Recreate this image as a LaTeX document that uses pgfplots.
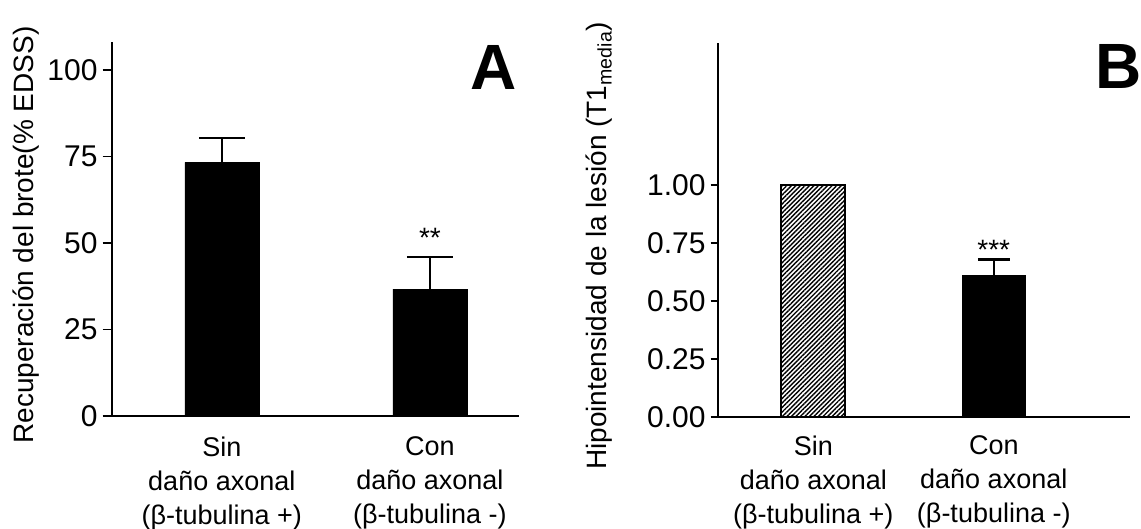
\documentclass[border=0pt]{standalone}
\usepackage{fontspec}
\setmainfont{Liberation Sans}
\usepackage{pgfplots}
\pgfplotsset{compat=1.18}
\usetikzlibrary{patterns.meta}

\begin{document}
\begin{tikzpicture}[x=1pt,y=1pt]
\pgfplotsset{
  myax/.style={
    scale only axis, clip=false,
    axis x line=bottom, axis y line=left,
    axis line style={-, line width=1.8pt, black},
    tick align=outside, ymin=0,
    xtick={0,1},
    xtick style={draw=none},
    ytick style={line width=1.8pt, black},
    major tick length=9pt,
    tick label style={font=\fontsize{30}{36}\selectfont},
    yticklabel style={inner sep=2pt, xshift=-3pt},
    xticklabel style={font=\fontsize{27}{34}\selectfont, align=center, yshift=-8pt},
    /pgf/number format/assume math mode=true,
  },
}

% ---------- Panel A ----------
\begin{axis}[myax,
  at={(111.7pt,113pt)}, anchor=south west,
  width=407.3pt, height=374.3pt,
  xmin=-0.529, xmax=1.428, ymax=108.2,
  ytick={0,25,50,75,100},
  xticklabels={{Sin\\daño axonal\\(β-tubulina +)},{Con\\daño axonal\\(β-tubulina -)}},
]
\addplot[ybar, bar width=74pt, bar shift=0pt, fill=black, draw=black,
  error bars/.cd, y dir=plus, y explicit,
  error bar style={line width=1.8pt, black},
  error mark options={rotate=90, mark size=23pt, line width=1.8pt, black}]
  coordinates {(0,73.3) +- (0,7.1) (1,36.7) +- (0,9.3)};
\node[font=\fontsize{28}{30}\selectfont, anchor=base] at (axis cs:1,48.6) {**};
\end{axis}

% ---------- Panel B ----------
\begin{axis}[myax,
  at={(717.7pt,111.7pt)}, anchor=south west,
  width=412.3pt, height=374pt,
  xmin=-0.53, xmax=1.755, ymax=1.612,
  axis line style={-, line width=2.4pt, black},
  ytick={0,0.25,0.5,0.75,1},
  major tick length=7pt,
  yticklabel style={/pgf/number format/.cd, fixed, fixed zerofill, precision=2},
  xticklabels={{Sin\\daño axonal\\(β-tubulina +)},{Con\\daño axonal\\(β-tubulina -)}},
]
\addplot[ybar, bar width=64pt, bar shift=0pt, draw=black, line width=2pt,
  pattern={Lines[angle=45, distance=3.2pt, line width=1.4pt]}]
  coordinates {(0,1.0)};
\addplot[ybar, bar width=63pt, bar shift=0pt, fill=black, draw=black,
  error bars/.cd, y dir=plus, y explicit,
  error bar style={line width=2.4pt, black},
  error mark options={rotate=90, mark size=16pt, line width=2.4pt, black}]
  coordinates {(1,0.612) +- (0,0.068)};
\node[font=\fontsize{28}{30}\selectfont, anchor=base] at (axis cs:1,0.681) {***};
\end{axis}

% ---------- labels ----------
\node[rotate=90, anchor=base, font=\fontsize{28}{34}\selectfont] at (33pt,294pt) {Recuperación del brote(\% EDSS)};
\node[rotate=90, anchor=base, font=\fontsize{28}{34}\selectfont] at (606pt,283pt) {Hipointensidad de la lesión (T1\textsubscript{media})};
\node[font=\fontsize{64}{70}\selectfont\bfseries, anchor=base] at (493.5pt,439pt) {A};
\node[font=\fontsize{64}{70}\selectfont\bfseries, anchor=base] at (1119pt,440.7pt) {B};

\pgfresetboundingbox
\path[use as bounding box] (0,0) rectangle (1141pt,529pt);
\end{tikzpicture}
\end{document}
